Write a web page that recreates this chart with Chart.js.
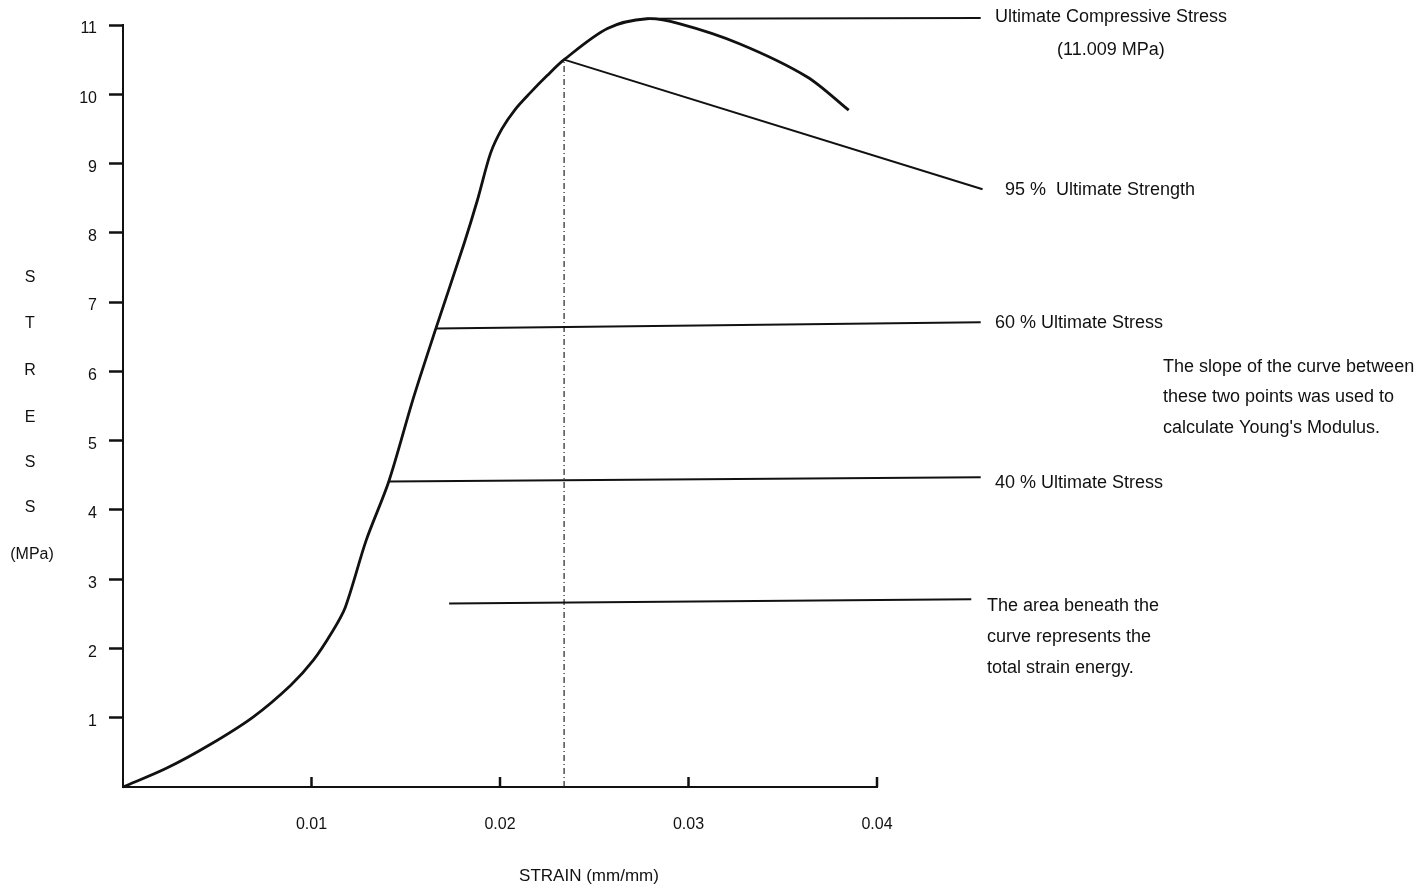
<!DOCTYPE html>
<html>
<head>
<meta charset="utf-8">
<script src="https://cdn.jsdelivr.net/npm/chart.js@4.4.1/dist/chart.umd.min.js"></script>
<style>
  html, body { margin: 0; padding: 0; background: #fff; }
  #wrap { width: 1421px; height: 888px; }
</style>
</head>
<body>
<div id="wrap"><canvas id="c" width="1421" height="888"></canvas></div>
<script>
// ---- data ----
const strain = [0, 0.0023, 0.0046, 0.0069, 0.0089, 0.0101, 0.0111, 0.0118, 0.0129, 0.0141, 0.0154, 0.0166, 0.0181, 0.0188, 0.0195, 0.0201, 0.0208, 0.0216, 0.0225, 0.0234, 0.0257, 0.0278, 0.0295, 0.0327, 0.0363, 0.0385];
const stress = [0, 0.27, 0.61, 1.01, 1.47, 1.83, 2.24, 2.60, 3.56, 4.41, 5.61, 6.62, 7.85, 8.47, 9.15, 9.50, 9.78, 10.02, 10.27, 10.50, 10.95, 11.09, 11.02, 10.73, 10.25, 9.77];

const ultimateX = [0.0278, 0.0455];
const ultimateY = [11.09, 11.10];
const u95X = [0.0234, 0.0456];
const u95Y = [10.50, 8.63];
const u60X = [0.0166, 0.0455];
const u60Y = [6.62, 6.71];
const u40X = [0.0141, 0.0455];
const u40Y = [4.41, 4.47];
const energyX = [0.0173, 0.0450];
const energyY = [2.65, 2.71];
const guideX = [0.0234, 0.0234];
const guideY = [0, 10.50];

const xTickValues = [0.01, 0.02, 0.03, 0.04];
const yTickValues = [1, 2, 3, 4, 5, 6, 7, 8, 9, 10, 11];

const yTitleParts = ['S', 'T', 'R', 'E', 'S', 'S', '(MPa)'];
const xTitle = 'STRAIN (mm/mm)';
const notes = [
  'Ultimate Compressive Stress',
  '(11.009 MPa)',
  '95 %  Ultimate Strength',
  '60 % Ultimate Stress',
  'The slope of the curve between',
  'these two points was used to',
  "calculate Young's Modulus.",
  '40 % Ultimate Stress',
  'The area beneath the',
  'curve represents the',
  'total strain energy.'
];

// ---- layout / styling (not data) ----
const FONT = '"Liberation Sans", Arial, Helvetica, sans-serif';
const INK = '#111';
const noteAnchors = [
  [995, 17], [1057, 50], [1005, 190], [995, 323],
  [1163, 367], [1163, 397], [1163, 428], [995, 483],
  [987, 606], [987, 637], [987, 668]
];
const yTitleAnchors = [[30, 278], [30, 324], [30, 371], [30, 418], [30, 463], [30, 508], [32, 555]];

function pts(xs, ys) { return xs.map((x, i) => ({ x: x, y: ys[i] })); }
function lineSet(xs, ys, extra) {
  return Object.assign({
    data: pts(xs, ys), showLine: true, borderColor: INK, borderWidth: 2,
    pointRadius: 0, pointHoverRadius: 0, fill: false, clip: false, tension: 0
  }, extra || {});
}

const annot = {
  id: 'annot',
  afterDraw(chart) {
    const ctx = chart.ctx;
    const xs = chart.scales.x, ys = chart.scales.y;
    ctx.save();
    ctx.strokeStyle = INK; ctx.lineWidth = 2.5;
    const y0 = ys.getPixelForValue(0);
    xTickValues.forEach(v => {
      const px = xs.getPixelForValue(v);
      ctx.beginPath(); ctx.moveTo(px, y0); ctx.lineTo(px, y0 - 10); ctx.stroke();
    });
    ctx.fillStyle = INK;
    ctx.textBaseline = 'middle';
    ctx.font = '18px ' + FONT;
    ctx.textAlign = 'left';
    notes.forEach((t, i) => ctx.fillText(t, noteAnchors[i][0], noteAnchors[i][1]));
    ctx.textAlign = 'center';
    ctx.font = '16px ' + FONT;
    yTitleParts.forEach((t, i) => ctx.fillText(t, yTitleAnchors[i][0], yTitleAnchors[i][1]));
    ctx.font = '17px ' + FONT;
    ctx.fillText(xTitle, 589, 876);
    ctx.restore();
  }
};

new Chart(document.getElementById('c'), {
  type: 'scatter',
  data: {
    datasets: [
      lineSet(strain, stress, { borderWidth: 2.8, tension: 0.3 }),
      lineSet(ultimateX, ultimateY),
      lineSet(u95X, u95Y),
      lineSet(u60X, u60Y),
      lineSet(u40X, u40Y),
      lineSet(energyX, energyY),
      lineSet(guideX, guideY, { borderWidth: 1.2, borderDash: [6, 3, 1, 3], borderColor: '#222' })
    ]
  },
  options: {
    responsive: false,
    animation: false,
    devicePixelRatio: 1,
    layout: { padding: { top: 25, right: 544, bottom: 0, left: 0 } },
    plugins: { legend: { display: false }, tooltip: { enabled: false }, title: { display: false } },
    scales: {
      x: {
        type: 'linear', min: 0, max: 0.04,
        afterFit: s => { s.height = 101; },
        afterBuildTicks: s => { s.ticks = [{ value: 0 }].concat(xTickValues.map(v => ({ value: v }))); },
        ticks: {
          color: INK, font: { family: FONT, size: 16 }, padding: 28, maxRotation: 0,
          callback: v => v === 0 ? '' : Number(v).toFixed(2)
        },
        grid: { display: true, drawOnChartArea: false, drawTicks: false },
        border: { display: true, color: INK, width: 2 }
      },
      y: {
        type: 'linear', min: 0, max: 11,
        afterFit: s => { s.width = 123; },
        afterBuildTicks: s => { s.ticks = [{ value: 0 }].concat(yTickValues.map(v => ({ value: v }))); },
        ticks: {
          color: INK, font: { family: FONT, size: 16 }, padding: 12, labelOffset: 4,
          callback: v => v === 0 ? '' : String(v)
        },
        grid: {
          display: true, drawOnChartArea: false, drawTicks: true, tickLength: 14, tickWidth: 2.5,
          color: c => (c.tick && c.tick.value === 0) ? 'rgba(0,0,0,0)' : INK
        },
        border: { display: true, color: INK, width: 2 }
      }
    }
  },
  plugins: [annot]
});
</script>
</body>
</html>
